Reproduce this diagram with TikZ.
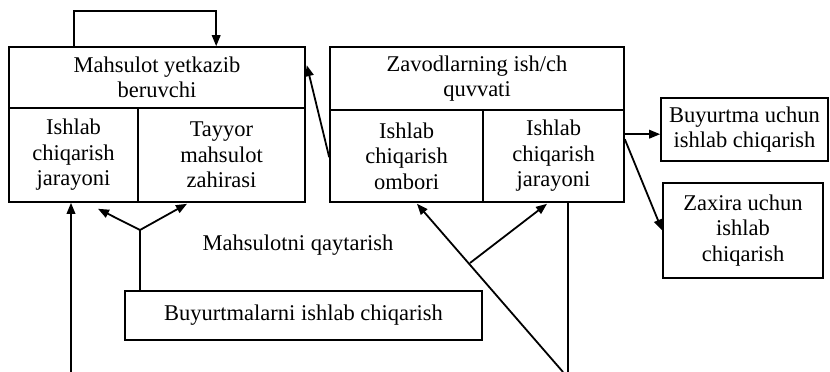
\documentclass[tikz,border=0pt]{standalone}
\usepackage{fontspec}
\setmainfont{Liberation Serif}
\usetikzlibrary{arrows.meta,calc}
\begin{document}
\begin{tikzpicture}[x=1pt,y=-1pt,
  box/.style={draw,line width=1.6pt,rectangle,inner sep=0pt,align=center,
    font=\fontsize{22.5}{25.5}\selectfont},
  lbl/.style={inner sep=0pt,font=\fontsize{22.5}{25.5}\selectfont},
  arr/.style={line width=1.8pt,-{Triangle[length=11pt,width=8.5pt]}},
  ln/.style={line width=1.6pt}]
\useasboundingbox (0,0) rectangle (830,372);
% left block
\node[box,minimum width=296pt,minimum height=61pt] (LH) at (157,77.5) {Mahsulot yetkazib\\beruvchi};
\node[box,minimum width=129pt,minimum height=94pt] (LC1) at (73.5,155) {Ishlab\\chiqarish\\jarayoni};
\node[box,minimum width=167pt,minimum height=94pt] (LC2) at (221.5,155) {Tayyor\\mahsulot\\zahirasi};
% right block
\node[box,minimum width=294pt,minimum height=63pt] (RH) at (477,78.5) {Zavodlarning ish/ch\\quvvati};
\node[box,minimum width=153pt,minimum height=92pt] (RC1) at (406.5,156) {Ishlab\\chiqarish\\ombori};
\node[box,minimum width=141pt,minimum height=92pt] (RC2) at (553.5,156) {Ishlab\\chiqarish\\jarayoni};
% outputs
\node[box,minimum width=167pt,minimum height=63pt] (BU) at (744.5,129.5) {Buyurtma uchun\\ishlab chiqarish};
\node[box,minimum width=160pt,minimum height=95pt] (ZA) at (743,230.5) {Zaxira uchun\\ishlab\\chiqarish};
% bottom
\node[box,minimum width=357pt,minimum height=49pt] (BO) at (303.5,315.5) {Buyurtmalarni ishlab chiqarish};
\node[lbl] (MQ) at (298,245) {Mahsulotni qaytarish};
% coordinates
\coordinate (loopA) at ($(LH.north west)+(66,-35)$);
\coordinate (loopB) at ($(LH.north west)+(208,-35)$);
\coordinate (fork) at (140,230);
\coordinate (blA) at (71,372);
\coordinate (diagA) at (563,372);
\coordinate (brA) at (470,263);
\coordinate (vB) at (568,372);
% connectors
\draw[arr] (loopA |- LH.north) -- (loopA) -- (loopB) -- (loopB |- LH.north);
\draw[arr] ($(RC1.north west)+(0,48)$) -- ($(LH.north east)+(1,19)$);
\draw[arr] ($(RC2.north east)+(0,25)$) -- (BU.west |- {$(RC2.north east)+(0,25)$});
\draw[arr] ($(RC2.north east)+(0,30)$) -- (ZA.west);
\draw[arr] (blA) -- (blA |- LC1.south);
\draw[ln] (fork |- BO.north) -- (fork);
\draw[arr] (fork) -- ($(LC1.south)+(24.5,6)$);
\draw[arr] (fork) -- ($(LC2.south)+(-34.5,1)$);
\draw[arr] (diagA) -- ($(RC1.south)+(10.5,1)$);
\draw[arr] (brA) -- ($(RC2.south)+(-6.5,1)$);
\draw[ln] (vB |- RC2.south) -- (vB);
\end{tikzpicture}
\end{document}
